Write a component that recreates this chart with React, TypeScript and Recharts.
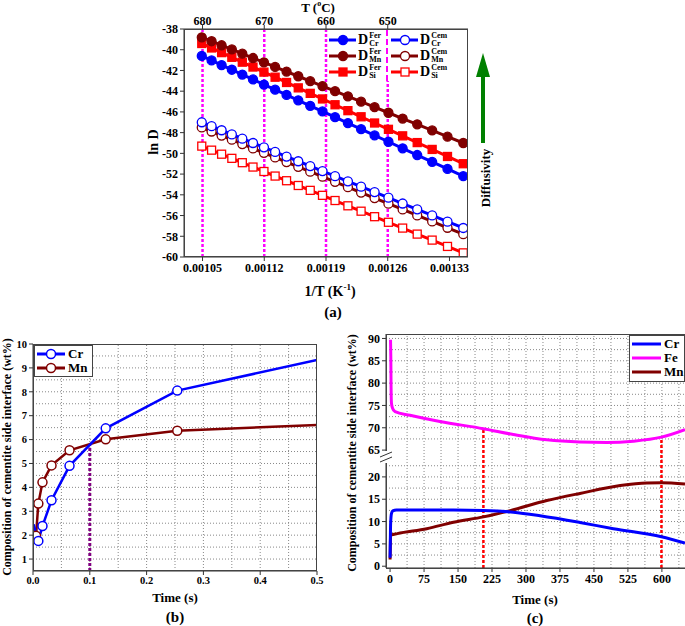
import { LineChart, Line, XAxis, YAxis, ReferenceLine } from 'recharts';

const FONT = "'Liberation Serif', 'Times New Roman', serif";
const BLUE = '#0000ff';
const MAROON = '#800000';
const RED = '#ff0000';
const MAGENTA = '#ff00ff';

// ---------- panel (a): ln D vs 1/T ----------
const tempsC = [680, 670, 660, 650, 640, 630, 620, 610, 600, 590, 580, 570, 560, 550, 540, 530, 520, 510, 500, 490, 480, 470];
const crFer = [-40.6, -41.03, -41.48, -41.93, -42.4, -42.87, -43.36, -43.85, -44.36, -44.88, -45.41, -45.95, -46.51, -47.08, -47.67, -48.27, -48.88, -49.51, -50.16, -50.82, -51.5, -52.2];
const mnFer = [-38.8, -39.18, -39.57, -39.97, -40.38, -40.8, -41.22, -41.66, -42.11, -42.56, -43.03, -43.51, -44.0, -44.5, -45.01, -45.54, -46.08, -46.64, -47.2, -47.79, -48.39, -49.0];
const siFer = [-39.4, -39.83, -40.28, -40.73, -41.2, -41.67, -42.16, -42.65, -43.16, -43.68, -44.21, -44.75, -45.31, -45.88, -46.47, -47.07, -47.68, -48.31, -48.96, -49.62, -50.3, -51.0];
const crCem = [-47.0, -47.38, -47.77, -48.17, -48.58, -49.0, -49.42, -49.86, -50.31, -50.76, -51.23, -51.71, -52.2, -52.7, -53.21, -53.74, -54.28, -54.84, -55.4, -55.99, -56.59, -57.2];
const mnCem = [-47.5, -47.89, -48.28, -48.68, -49.1, -49.52, -49.95, -50.39, -50.84, -51.3, -51.77, -52.25, -52.75, -53.26, -53.78, -54.31, -54.85, -55.41, -55.99, -56.57, -57.18, -57.8];
const siCem = [-49.3, -49.69, -50.08, -50.48, -50.9, -51.32, -51.75, -52.19, -52.64, -53.1, -53.57, -54.05, -54.55, -55.06, -55.58, -56.11, -56.65, -57.21, -57.79, -58.37, -58.98, -59.6];
const invTicks = [0.00105, 0.00112, 0.00119, 0.00126, 0.00133];
const topTicks = [0.00105, 0.00112, 0.00119, 0.00126];
const topLabels = ['680', '670', '660', '650'];
const lnTicks = [-60, -58, -56, -54, -52, -50, -48, -46, -44, -42, -40, -38];

const diffRows = tempsC.map((t, i) => ({
  x: 1 / (t + 273.15),
  crFer: crFer[i],
  mnFer: mnFer[i],
  siFer: siFer[i],
  crCem: crCem[i],
  mnCem: mnCem[i],
  siCem: siCem[i],
}));

// ---------- panel (b): short times ----------
const bCrTime = [0.001, 0.0094, 0.0167, 0.0326, 0.0643, 0.128, 0.254, 0.5];
const bCrVal = [2.45, 1.76, 2.38, 3.46, 4.9, 6.47, 8.05, 9.33];
const bMnTime = [0.001, 0.0053, 0.0094, 0.0167, 0.0326, 0.0643, 0.128, 0.254, 0.5];
const bMnVal = [1.8, 1.97, 3.32, 4.21, 4.92, 5.55, 6.01, 6.37, 6.61];
const bTicksX = [0, 0.1, 0.2, 0.3, 0.4, 0.5];
const bTicksY = [1, 2, 3, 4, 5, 6, 7, 8, 9, 10];
const bGridX = [0.05, 0.1, 0.15, 0.2, 0.25, 0.3, 0.35, 0.4, 0.45];
const bGridY = [1, 1.5, 2, 2.5, 3, 3.5, 4, 4.5, 5, 5.5, 6, 6.5, 7, 7.5, 8, 8.5, 9, 9.5];

const bCr = bCrTime.map((t, i) => ({ t, v: bCrVal[i] }));
const bMn = bMnTime.map((t, i) => ({ t, v: bMnVal[i] }));

// ---------- panel (c): long times, broken y axis ----------
const cFeTime = [1, 1.6, 2.2, 3, 5, 11, 44, 110, 206, 272, 346, 419, 478, 537, 599, 651];
const cFeVal = [89.7, 86, 79, 75.6, 74.5, 73.6, 72.8, 71.4, 69.8, 68.5, 67.3, 66.8, 66.7, 67.0, 67.9, 69.6];
const cCrTime = [0, 0.6, 1.2, 3, 6, 14, 60, 140, 206, 272, 331, 419, 493, 599, 651];
const cCrVal = [1.9, 6, 9.5, 11.8, 12.4, 12.6, 12.6, 12.6, 12.5, 12.1, 11.3, 9.8, 8.4, 6.6, 5.2];
const cMnTime = [0, 0.5, 1, 3, 16, 81, 140, 206, 265, 346, 419, 508, 567, 599, 651];
const cMnVal = [1.5, 4, 6.9, 7.0, 7.3, 8.4, 9.85, 11.05, 12.45, 14.7, 16.3, 18.05, 18.65, 18.7, 18.4];
const cTicksX = [0, 75, 150, 225, 300, 375, 450, 525, 600];
const cLowTicks = [0, 5, 10, 15, 20];
const cHighTicks = [65, 70, 75, 80, 85, 90];
const cGridX = [37.5, 75, 112.5, 150, 187.5, 225, 262.5, 300, 337.5, 375, 412.5, 450, 487.5, 525, 562.5, 600, 637.5];
const cGridLow = [2.5, 5, 7.5, 10, 12.5, 15, 17.5, 20, 22.5];
const cGridHigh = [67.5, 70, 72.5, 75, 77.5, 80, 82.5, 85, 87.5, 90];
const BREAK_SHIFT = 39; // upper segment (65-90) is drawn shifted down by this much
const cDropLines = [206, 599];

const shiftHigh = (v: number) => v - BREAK_SHIFT;
const cFe = cFeTime.map((t, i) => ({ t, v: shiftHigh(cFeVal[i]) }));
const cCr = cCrTime.map((t, i) => ({ t, v: cCrVal[i] }));
const cMn = cMnTime.map((t, i) => ({ t, v: cMnVal[i] }));
const cYTicks = [...cLowTicks, ...cHighTicks.map(shiftHigh)];

const tick12 = { fontSize: 12, fontWeight: 'bold', fill: '#000', fontFamily: FONT };
const tick11 = { fontSize: 10.5, fontWeight: 'bold', fill: '#000', fontFamily: FONT };

type Shape = 'circle' | 'square';

function makeDot(shape: Shape, color: string, filled: boolean) {
  return (p: any) => {
    const { cx, cy, index } = p;
    if (cx == null || cy == null) return <g key={`d${index}`} />;
    const fill = filled ? color : '#fff';
    if (shape === 'square') {
      return <rect key={`d${index}`} x={cx - 4} y={cy - 4} width={8} height={8} fill={fill} stroke={color} strokeWidth={1.3} />;
    }
    return <circle key={`d${index}`} cx={cx} cy={cy} r={4.5} fill={fill} stroke={color} strokeWidth={1.3} />;
  };
}

function innerDots(color: string, count: number) {
  return (p: any) => {
    const { cx, cy, index } = p;
    if (index === 0 || index === count - 1) return <g key={`d${index}`} />;
    return <circle key={`d${index}`} cx={cx} cy={cy} r={4.5} fill="#fff" stroke={color} strokeWidth={1.5} />;
  };
}

function Txt({ x, y, size, children, rotate, weight }: any) {
  return (
    <div
      style={{
        position: 'absolute',
        left: x,
        top: y,
        transform: `translate(-50%, -50%)${rotate ? ' rotate(-90deg)' : ''}`,
        whiteSpace: 'nowrap',
        fontFamily: FONT,
        fontWeight: weight ?? 'bold',
        fontSize: size,
        lineHeight: 1,
        color: '#000',
      }}
    >
      {children}
    </div>
  );
}

function Frame({ x, y, w, h }: any) {
  return (
    <div
      style={{
        position: 'absolute',
        left: x,
        top: y,
        width: w,
        height: h,
        border: '1px solid #444',
        boxSizing: 'border-box',
        pointerEvents: 'none',
      }}
    />
  );
}

function DIcon({ color, shape, filled }: { color: string; shape: Shape; filled: boolean }) {
  const fill = filled ? color : '#fff';
  return (
    <svg width={27} height={12} style={{ display: 'block' }}>
      <line x1={0} y1={6} x2={27} y2={6} stroke={color} strokeWidth={3} />
      {shape === 'circle' ? (
        <circle cx={14} cy={6} r={4.5} fill={fill} stroke={color} strokeWidth={1.3} />
      ) : (
        <rect x={10} y={2} width={8} height={8} fill={fill} stroke={color} strokeWidth={1.3} />
      )}
    </svg>
  );
}

function DLegendItem({ x, y, el, phase, color, shape, filled }: any) {
  return (
    <div style={{ position: 'absolute', left: x, top: y - 8, height: 16, display: 'flex', alignItems: 'center', fontFamily: FONT, fontWeight: 'bold' }}>
      <DIcon color={color} shape={shape} filled={filled} />
      <span style={{ fontSize: 14, lineHeight: '14px', marginLeft: 2 }}>D</span>
      <span style={{ display: 'flex', flexDirection: 'column', fontSize: 8, lineHeight: '8px', marginLeft: 1 }}>
        <span>{phase}</span>
        <span>{el}</span>
      </span>
    </div>
  );
}

function LineLegendRow({ color, label, width, marker }: any) {
  return (
    <div style={{ display: 'flex', alignItems: 'center', height: 14 }}>
      <svg width={width} height={12} style={{ display: 'block' }}>
        <line x1={0} y1={6} x2={width} y2={6} stroke={color} strokeWidth={3} />
        {marker && <circle cx={width / 2} cy={6} r={4.5} fill="#fff" stroke={color} strokeWidth={1.5} />}
      </svg>
      <span style={{ fontFamily: FONT, fontWeight: 'bold', fontSize: 13, marginLeft: 3 }}>{label}</span>
    </div>
  );
}

function PanelA() {
  const dom: [number, number] = [0.001029, 0.001351];
  return (
    <>
      <div style={{ position: 'absolute', left: 0, top: 0 }}>
        <LineChart width={685} height={300} data={diffRows} margin={{ top: 9, right: 217, left: 144, bottom: 13 }}>
          <XAxis
            xAxisId="b"
            dataKey="x"
            type="number"
            domain={dom}
            allowDataOverflow
            ticks={invTicks}
            tickFormatter={(v: number) => v.toFixed(5)}
            tick={tick12}
            tickSize={4}
            height={30}
            stroke="#333"
          />
          <XAxis
            xAxisId="t"
            orientation="top"
            dataKey="x"
            type="number"
            domain={dom}
            allowDataOverflow
            ticks={topTicks}
            tickFormatter={(v: number) => topLabels[topTicks.indexOf(v)] ?? ''}
            tick={tick12}
            tickSize={4}
            tickMargin={0}
            height={20}
            stroke="#333"
          />
          <YAxis domain={[-60, -38]} ticks={lnTicks} tick={tick12} tickSize={4} width={40} stroke="#333" allowDataOverflow />
          {topTicks.map((v) => (
            <ReferenceLine key={v} xAxisId="b" x={v} stroke={MAGENTA} strokeWidth={2.5} strokeDasharray="3 2" />
          ))}
          <Line xAxisId="b" dataKey="siCem" stroke={RED} strokeWidth={3} dot={makeDot('square', RED, false)} activeDot={false} isAnimationActive={false} />
          <Line xAxisId="b" dataKey="mnCem" stroke={MAROON} strokeWidth={3} dot={makeDot('circle', MAROON, false)} activeDot={false} isAnimationActive={false} />
          <Line xAxisId="b" dataKey="crCem" stroke={BLUE} strokeWidth={3} dot={makeDot('circle', BLUE, false)} activeDot={false} isAnimationActive={false} />
          <Line xAxisId="b" dataKey="crFer" stroke={BLUE} strokeWidth={3} dot={makeDot('circle', BLUE, true)} activeDot={false} isAnimationActive={false} />
          <Line xAxisId="b" dataKey="siFer" stroke={RED} strokeWidth={3} dot={makeDot('square', RED, true)} activeDot={false} isAnimationActive={false} />
          <Line xAxisId="b" dataKey="mnFer" stroke={MAROON} strokeWidth={3} dot={makeDot('circle', MAROON, true)} activeDot={false} isAnimationActive={false} />
        </LineChart>
      </div>
      <Frame x={184} y={29} w={284} h={228} />
      <div style={{ position: 'absolute', left: 328, top: 30, width: 138, height: 51, background: '#fff' }} />
      <div style={{ position: 'absolute', left: 386, top: 30, width: 0, height: 51, borderLeft: `2.5px dashed ${MAGENTA}` }} />
      <DLegendItem x={329} y={40} el="Cr" phase="Fer" color={BLUE} shape="circle" filled />
      <DLegendItem x={329} y={56} el="Mn" phase="Fer" color={MAROON} shape="circle" filled />
      <DLegendItem x={329} y={72} el="Si" phase="Fer" color={RED} shape="square" filled />
      <DLegendItem x={391} y={40} el="Cr" phase="Cem" color={BLUE} shape="circle" filled={false} />
      <DLegendItem x={391} y={56} el="Mn" phase="Cem" color={MAROON} shape="circle" filled={false} />
      <DLegendItem x={391} y={72} el="Si" phase="Cem" color={RED} shape="square" filled={false} />
      <svg width={20} height={100} style={{ position: 'absolute', left: 473, top: 50 }}>
        <line x1={10} y1={25} x2={10} y2={93} stroke="#008000" strokeWidth={4} />
        <polygon points="10,3 3,27 17,27" fill="#008000" />
      </svg>
      <Txt x={485} y={178} size={13} rotate>
        Diffusivity
      </Txt>
      <Txt x={318} y={7} size={13}>
        T (<sup style={{ fontSize: 8 }}>o</sup>C)
      </Txt>
      <Txt x={154} y={142} size={14} rotate>
        ln D
      </Txt>
      <Txt x={330} y={291} size={14}>
        1/T (K<sup style={{ fontSize: 9 }}>-1</sup>)
      </Txt>
      <Txt x={333} y={312} size={15}>
        (a)
      </Txt>
    </>
  );
}

function PanelB() {
  return (
    <>
      <div style={{ position: 'absolute', left: 0, top: 320 }}>
        <LineChart width={340} height={306} margin={{ top: 24, right: 23, left: 8, bottom: 30 }}>
          <XAxis
            dataKey="t"
            type="number"
            domain={[0, 0.5]}
            ticks={bTicksX}
            tickFormatter={(v: number) => v.toFixed(1)}
            tick={tick11}
            tickSize={4}
            height={25}
            stroke="#333"
            allowDataOverflow
          />
          <YAxis domain={[0.5, 10]} ticks={bTicksY} tick={tick11} tickSize={4} width={25} stroke="#333" allowDataOverflow />
          {bGridX.map((v) => (
            <ReferenceLine key={`gx${v}`} x={v} stroke="#888" strokeDasharray="1 2" />
          ))}
          {bGridY.map((v) => (
            <ReferenceLine key={`gy${v}`} y={v} stroke="#888" strokeDasharray="1 2" />
          ))}
          <ReferenceLine
            segment={[
              { x: 0.1, y: 0.5 },
              { x: 0.1, y: 5.8 },
            ]}
            stroke="#800080"
            strokeWidth={3}
            strokeDasharray="3 2"
          />
          <Line data={bMn} dataKey="v" stroke={MAROON} strokeWidth={2.5} dot={innerDots(MAROON, bMn.length)} activeDot={false} isAnimationActive={false} />
          <Line data={bCr} dataKey="v" stroke={BLUE} strokeWidth={2.5} dot={innerDots(BLUE, bCr.length)} activeDot={false} isAnimationActive={false} />
        </LineChart>
      </div>
      <Frame x={33} y={344} w={284} h={227} />
      <div style={{ position: 'absolute', left: 34, top: 345, padding: '1px 4px 1px 2px', background: '#fff', border: '1px solid #444' }}>
        <LineLegendRow color={BLUE} label="Cr" width={28} marker />
        <LineLegendRow color={MAROON} label="Mn" width={28} marker />
      </div>
      <Txt x={7} y={457} size={12} rotate>
        Composition of cementite side interface (wt%)
      </Txt>
      <Txt x={175} y={597} size={13}>
        Time (s)
      </Txt>
      <Txt x={175} y={617} size={15}>
        (b)
      </Txt>
    </>
  );
}

function PanelC() {
  return (
    <>
      <div style={{ position: 'absolute', left: 320, top: 320 }}>
        <LineChart width={365} height={306} margin={{ top: 14, right: 0, left: 36, bottom: 33 }}>
          <XAxis
            dataKey="t"
            type="number"
            domain={[-9, 651]}
            ticks={cTicksX}
            tick={tick12}
            tickSize={4}
            height={25}
            stroke="#333"
            allowDataOverflow
          />
          <YAxis
            domain={[-0.4, 52]}
            ticks={cYTicks}
            tickFormatter={(v: number) => String(v > 23 ? v + BREAK_SHIFT : v)}
            tick={tick12}
            tickSize={4}
            width={30}
            stroke="#333"
            allowDataOverflow
          />
          {cGridX.map((v) => (
            <ReferenceLine key={`gx${v}`} x={v} stroke="#888" strokeDasharray="1 2" />
          ))}
          {[...cGridLow, ...cGridHigh.map(shiftHigh)].map((v) => (
            <ReferenceLine key={`gy${v}`} y={v} stroke="#888" strokeDasharray="1 2" />
          ))}
          {cDropLines.map((t) => (
            <ReferenceLine
              key={`r${t}`}
              segment={[
                { x: t, y: -0.4 },
                { x: t, y: cFe.find((p) => p.t >= t)!.v },
              ]}
              stroke={RED}
              strokeWidth={2.5}
              strokeDasharray="3 2"
            />
          ))}
          <Line data={cFe} dataKey="v" type="monotone" stroke={MAGENTA} strokeWidth={3} dot={false} activeDot={false} isAnimationActive={false} />
          <Line data={cMn} dataKey="v" type="monotone" stroke={MAROON} strokeWidth={3} dot={false} activeDot={false} isAnimationActive={false} />
          <Line data={cCr} dataKey="v" type="monotone" stroke={BLUE} strokeWidth={3} dot={false} activeDot={false} isAnimationActive={false} />
        </LineChart>
      </div>
      <Frame x={386} y={334} w={300} h={235} />
      <svg width={14} height={16} style={{ position: 'absolute', left: 379, top: 449 }}>
        <rect x={5} y={2} width={4} height={12} fill="#fff" />
        <line x1={1} y1={8} x2={13} y2={3} stroke="#333" strokeWidth={1} />
        <line x1={1} y1={13} x2={13} y2={8} stroke="#333" strokeWidth={1} />
      </svg>
      <div style={{ position: 'absolute', left: 629, top: 335, width: 56, height: 47, boxSizing: 'border-box', padding: '1px 0 0 2px', background: '#fff', border: '1px solid #444' }}>
        <LineLegendRow color={BLUE} label="Cr" width={29} />
        <LineLegendRow color={MAGENTA} label="Fe" width={29} />
        <LineLegendRow color={MAROON} label="Mn" width={29} />
      </div>
      <Txt x={352} y={453} size={12} rotate>
        Composition of cementite side interface (wt%)
      </Txt>
      <Txt x={535} y={599} size={13}>
        Time (s)
      </Txt>
      <Txt x={535} y={618} size={15}>
        (c)
      </Txt>
    </>
  );
}

export default function App() {
  return (
    <div style={{ position: 'absolute', left: 0, top: 0, width: 685, height: 626, background: '#fff', overflow: 'hidden' }}>
      <PanelA />
      <PanelB />
      <PanelC />
    </div>
  );
}
